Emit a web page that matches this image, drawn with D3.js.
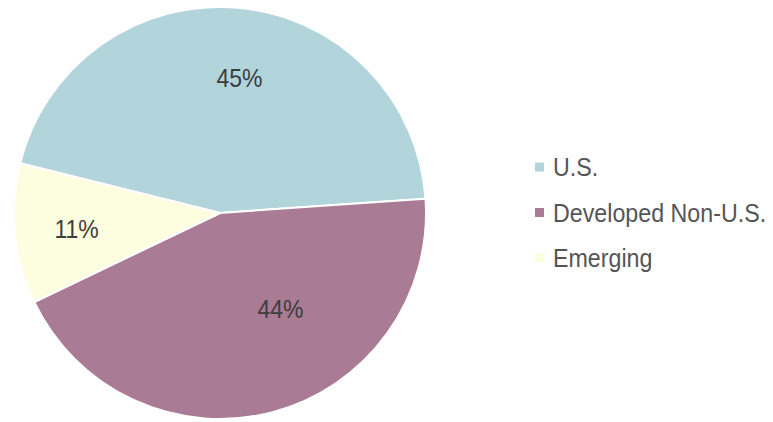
<!DOCTYPE html>
<html>
<head>
<meta charset="utf-8">
<script src="https://cdn.jsdelivr.net/npm/d3@7"></script>
<style>
  html, body { margin: 0; padding: 0; background: #fff; }
  svg { display: block; }
  text { font-family: "Liberation Sans", Arial, sans-serif; }
</style>
</head>
<body>
<div id="chart"></div>
<script>
// data
var categories = ["U.S.", "Developed Non-U.S.", "Emerging"];
var shares = [45, 44, 11];
var labels = ["45%", "44%", "11%"];
var colors = ["#b2d5dc", "#a97b94", "#fdfddf"];

// where each % label sits: [fraction of radius, fraction through the slice]
var labelSpot = [[0.66, 0.52], [0.55, 0.39], [0.70, 0.49]];

function draw_pie(_containerId) {
	var WIDTH = 773, HEIGHT = 422,
	CX = 220, CY = 213, R = 206,
	START = -76 * Math.PI / 180;

	var svg = d3.select(_containerId).append("svg")
		.attr("width", WIDTH)
		.attr("height", HEIGHT);

	var pie = d3.pie()
		.value(function(d) { return d; })
		.sort(null)
		.startAngle(START)
		.endAngle(START + 2 * Math.PI);

	var arc = d3.arc().innerRadius(0).outerRadius(R);
	var arcs = pie(shares);

	var g = svg.append("g").attr("transform", "translate(" + CX + "," + CY + ")");

	g.selectAll("path")
		.data(arcs)
		.enter().append("path")
		.attr("d", arc)
		.attr("fill", function(d, i) { return colors[i]; })
		.attr("stroke", "#fff")
		.attr("stroke-width", 2)
		.attr("stroke-linejoin", "round");

	g.selectAll("text.pct")
		.data(arcs)
		.enter().append("text")
		.attr("class", "pct")
		.attr("transform", function(d, i) {
			var a = d.startAngle + (d.endAngle - d.startAngle) * labelSpot[i][1];
			var r = R * labelSpot[i][0];
			var x = Math.sin(a) * r, y = -Math.cos(a) * r;
			return "translate(" + x + "," + y + ") scale(0.92,1)";
		})
		.attr("text-anchor", "middle")
		.attr("dy", "0.36em")
		.attr("font-size", 25)
		.attr("fill", "#3d3d3d")
		.text(function(d, i) { return labels[i]; });

	// legend
	var legendY = d3.scalePoint().domain(categories).range([167, 258]);
	var legend = svg.append("g").selectAll("g")
		.data(categories)
		.enter().append("g")
		.attr("transform", function(d) { return "translate(535," + legendY(d) + ")"; });

	legend.append("rect")
		.attr("x", 0).attr("y", -4.5)
		.attr("width", 9).attr("height", 9)
		.attr("fill", function(d, i) { return colors[i]; });

	legend.append("text")
		.attr("transform", "translate(18,0) scale(0.93,1)")
		.attr("dy", "0.36em")
		.attr("font-size", 25)
		.attr("fill", "#555")
		.text(function(d) { return d; });
}

draw_pie("#chart");
</script>
</body>
</html>
